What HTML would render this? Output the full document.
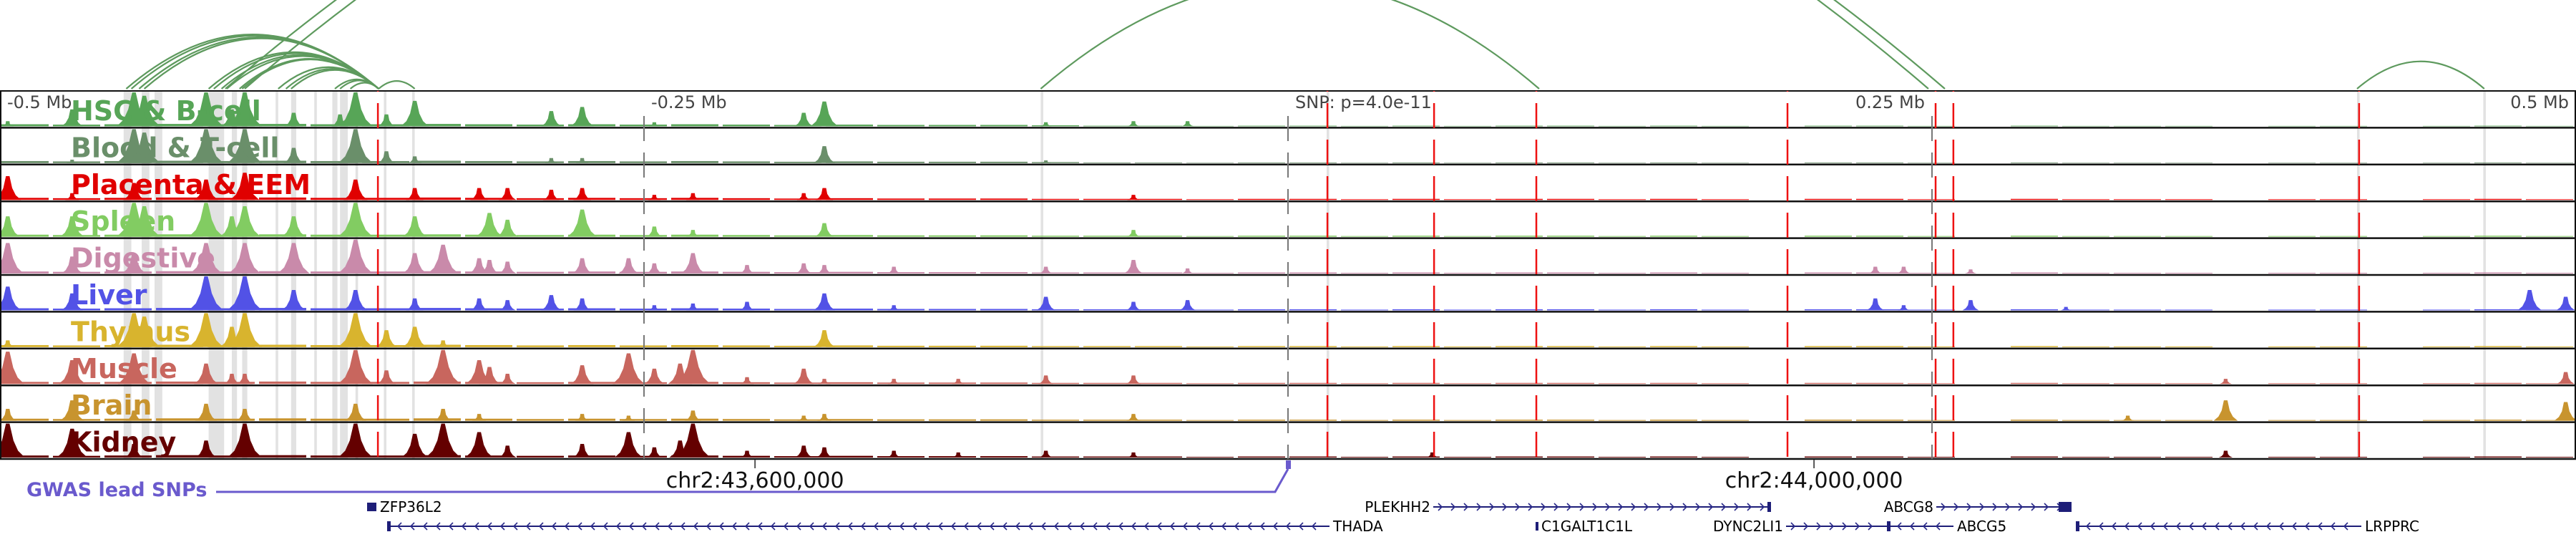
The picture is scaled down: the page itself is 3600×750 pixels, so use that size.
<!DOCTYPE html>
<html><head><meta charset="utf-8"><style>
html,body{margin:0;padding:0;background:#fff;width:3600px;height:750px;overflow:hidden}
svg{display:block;font-family:"DejaVu Sans","Liberation Sans",sans-serif}
</style></head><body>
<svg id="chart" width="3600" height="750" viewBox="0 0 3600 750" xmlns="http://www.w3.org/2000/svg">
<g id="bands"></g>
<g id="arcs" fill="none"></g>
<g id="tracks"></g>
<g id="vlines"></g>
<g id="labels"></g>
<g id="axis"></g>
<g id="genes"></g>
</svg>
<script>
// ---- data ----
const trackNames = ["HSC & B-cell","Blood & T-cell","Placenta & EEM","Spleen","Digestive","Liver","Thymus","Muscle","Brain","Kidney"];
const trackColors = ["#57a557","#6a8f6a","#e00000","#82cc62","#c98aaa","#5252e6","#d8b42e","#c8665e","#c8942e","#640000"];
const hscPeaks = [[-497,0.15],[-472,0.5],[-448,1],[-444,0.9],[-420,1],[-410,0.5],[-405,1],[-386,0.4],[-368,0.35],[-362,1],[-350,0.35],[-339,0.75],[-286,0.45],[-274,0.57],[-246,0.12],[-188,0.4],[-180,0.73],[-94,0.12],[-60,0.15],[-39,0.15]];
const bloodPeaks = [[-472,0.1],[-448,1],[-444,0.9],[-420,1],[-405,1],[-386,0.45],[-362,1],[-350,0.35],[-339,0.2],[-286,0.15],[-274,0.15],[-180,0.5],[-94,0.08]];
const placentaPeaks = [[-497,0.7],[-472,0.2],[-448,0.5],[-420,0.6],[-405,0.8],[-362,0.6],[-339,0.35],[-314,0.35],[-303,0.35],[-286,0.3],[-274,0.35],[-246,0.15],[-231,0.2],[-188,0.2],[-180,0.35],[-60,0.15]];
const spleenPeaks = [[-497,0.6],[-472,0.6],[-448,1],[-444,0.9],[-420,1],[-410,0.6],[-405,0.9],[-386,0.6],[-362,1],[-339,0.6],[-310,0.7],[-303,0.5],[-274,0.8],[-246,0.3],[-231,0.2],[-180,0.4],[-60,0.2]];
const digestivePeaks = [[-497,0.9],[-472,0.5],[-448,0.6],[-420,0.9],[-405,0.9],[-386,0.9],[-362,1],[-339,0.6],[-328,0.85],[-314,0.45],[-310,0.4],[-303,0.35],[-274,0.45],[-256,0.45],[-246,0.3],[-231,0.6],[-210,0.25],[-188,0.3],[-180,0.25],[-153,0.2],[-94,0.2],[-60,0.4],[-39,0.15],[228,0.2],[239,0.2],[265,0.12]];
const liverPeaks = [[-497,0.7],[-472,0.5],[-420,1],[-405,1],[-386,0.6],[-362,0.6],[-339,0.35],[-314,0.35],[-303,0.3],[-286,0.45],[-274,0.35],[-246,0.15],[-231,0.2],[-210,0.25],[-180,0.5],[-153,0.15],[-94,0.4],[-60,0.25],[-39,0.3],[228,0.35],[239,0.15],[265,0.3],[302,0.1],[482,0.6],[496,0.4]];
const thymusPeaks = [[-497,0.2],[-448,1],[-444,0.9],[-420,1],[-410,0.6],[-405,1],[-362,1],[-350,0.5],[-339,0.6],[-328,0.2],[-180,0.5]];
const musclePeaks = [[-497,0.95],[-472,0.7],[-448,0.9],[-420,0.6],[-410,0.3],[-405,0.3],[-362,1],[-350,0.4],[-328,1],[-314,0.7],[-310,0.5],[-303,0.3],[-274,0.55],[-256,0.9],[-246,0.45],[-236,0.6],[-231,1],[-210,0.2],[-188,0.45],[-180,0.15],[-153,0.15],[-128,0.15],[-94,0.25],[-60,0.25],[364,0.15],[496,0.35]];
const brainPeaks = [[-497,0.35],[-472,0.6],[-448,0.3],[-420,0.5],[-405,0.35],[-362,0.5],[-328,0.35],[-314,0.2],[-274,0.2],[-256,0.15],[-231,0.3],[-188,0.15],[-180,0.2],[-60,0.2],[326,0.15],[364,0.6],[496,0.55]];
const kidneyPeaks = [[-497,1],[-472,0.85],[-448,0.4],[-420,0.5],[-405,1],[-362,1],[-339,0.7],[-328,1],[-314,0.75],[-303,0.35],[-274,0.4],[-256,0.75],[-246,0.3],[-236,0.5],[-231,1],[-210,0.2],[-188,0.35],[-180,0.3],[-153,0.2],[-128,0.15],[-94,0.2],[-60,0.15],[56,0.15],[364,0.2]];
const bgLevels = [0.06,0.05,0.06,0.07,0.06,0.07,0.06,0.06,0.07,0.06,0.05,0.06,0.05,0.06,0.05,0.04,0.05,0.04,0.04,0.04,0.03,0.03,0.03,0.02,0.03,0.03,0.02,0.03,0.02,0.03,0.03,0.02,0.03,0.02,0,0.03,0.03,0.02,0,0.03,0.02,0.02,0.02,0,0.02,0.02,0,0.02,0.03,0.02];
const redLinesKb = [-353.3,15.3,56.7,96.4,193.9,251.4,258.3,415.8];
const grayLinesKb = [-250,0,250];
const bandsKb = [[-452,-449],[-445,-442],[-440,-437],[-419,-413],[-410,-408],[-406,-404],[-393,-392],[-387,-385],[-378,-377],[-371,-369],[-368,-365],[-362,-361],[-351,-350],[-340,-339],[-96,-95],[15,16],[415,416],[464,465]];
const loopStartKb = [-451,-449,-446,-444,-419,-417,-414,-412,-407,-406,-392,-389,-387,-370,-368,-364,-353,-412.5,-405,-96,415];
const loopEndKb   = [-353,-353,-353,-353,-353,-353,-353,-353,-353,-353,-353,-353,-353,-353,-353,-353,-339,248.6,255,97.5,464.4];
const axisTickKb = [-500,-250,0,250,500];
const axisTickText = ["-0.5 Mb","-0.25 Mb","SNP: p=4.0e-11","0.25 Mb","0.5 Mb"];
const chromTicksKb = [-206.9,204.2];
const chromTickText = ["chr2:43,600,000","chr2:44,000,000"];

// ---- scales ----
const NS="http://www.w3.org/2000/svg";
const X = kb => 1800 + kb*3.6;
const TOP=127, TH=51.4, NT=10;
const trackTop = i => TOP + i*TH;
function mk(tag, attrs, parent){const e=document.createElementNS(NS,tag);for(const k in attrs)e.setAttribute(k,attrs[k]);parent.appendChild(e);return e;}
const allPeaks=[hscPeaks,bloodPeaks,placentaPeaks,spleenPeaks,digestivePeaks,liverPeaks,thymusPeaks,musclePeaks,brainPeaks,kidneyPeaks];

// bands
const gB=document.getElementById('bands');
bandsKb.forEach(b=>{
  const r=mk('rect',{x:X(b[0]),y:TOP,width:Math.max(3,X(b[1])-X(b[0])),height:TH*NT,fill:'#e2e2e2'},gB);
  
  
});

// arcs
const gA=document.getElementById('arcs');
loopStartKb.forEach((s,i)=>{
  const x0=X(s), x1=X(loopEndKb[i]), span=x1-x0, hc=0.43*span, base=TOP-3;
  const p=mk('path',{d:`M${x0},${base} Q${(x0+x1)/2},${base-hc} ${x1},${base}`,stroke:'#5e9a5e','stroke-width':2.2},gA);
  
  
});

// tracks
const gT=document.getElementById('tracks');
allPeaks.forEach((peaks,i)=>{
  const top=trackTop(i), base=top+TH-2, maxH=TH-4, col=trackColors[i];
  const g=mk('g',{},gT);
  
  
  bgLevels.forEach((v,j)=>{
    if(v<=0) return;
    const lvl = (i<2 && j>20) ? v*0.6 : v;
    mk('rect',{x:X(-500+j*20)+2,y:base-lvl*maxH,width:20*3.6-6,height:lvl*maxH,fill:col},g);
  });
  peaks.forEach(p=>{
    const x=X(p[0]), h=p[1]*maxH, w=6+18*p[1], s=2+6*p[1];
    const pg=mk('polygon',{points:`${x-w},${base} ${x-w*0.6},${base-h*0.2} ${x-s},${base-h*0.5} ${x-2.5},${base-h} ${x+2.5},${base-h} ${x+s},${base-h*0.5} ${x+w*0.6},${base-h*0.2} ${x+w},${base}`,fill:col},g);
    
    
  });
  const bl=mk('line',{x1:0,x2:3600,y1:top+TH,y2:top+TH,stroke:'#111','stroke-width':2.5},gT);
  
  
});
mk('rect',{x:1,y:TOP,width:3598,height:TH*NT,fill:'none',stroke:'#111','stroke-width':2},gT);

// vertical lines
const gV=document.getElementById('vlines');
grayLinesKb.forEach(k=>{
  const l=mk('line',{x1:X(k),x2:X(k),y1:TOP+35,y2:TOP+TH*NT,stroke:'#777','stroke-width':2,'stroke-dasharray':'35 16'},gV);
  
  
});
redLinesKb.forEach(k=>{
  const l=mk('line',{x1:X(k),x2:X(k),y1:TOP,y2:TOP+TH*NT,stroke:'#ee1111','stroke-width':2.5,'stroke-dasharray':'35 16','stroke-dashoffset':'-17'},gV);
  
  
});

// labels
const gL=document.getElementById('labels');
trackNames.forEach((n,i)=>{
  const t=mk('text',{x:99,y:trackTop(i)+41,'font-size':38,'font-weight':'bold',fill:trackColors[i]},gL);
  t.textContent=n;
  
  
});

// axis
const gX=document.getElementById('axis');
axisTickKb.forEach((k,i)=>{
  let x=X(k)+10, anchor='start';
  if(k>0){x=X(k)-10;anchor='end';}
  const t=mk('text',{x:x,y:151,'font-size':24,fill:'#444','text-anchor':anchor},gX);
  t.textContent=axisTickText[i];
  
  
});
chromTicksKb.forEach((k,i)=>{
  mk('line',{x1:X(k),x2:X(k),y1:642,y2:654,stroke:'#555','stroke-width':2},gX);
  const t=mk('text',{x:X(k),y:681,'font-size':30,fill:'#111','text-anchor':'middle'},gX);
  t.textContent=chromTickText[i];
  
  
});

// GWAS + genes
const gG=document.getElementById('genes');
const gw=mk('text',{x:37,y:693,'font-size':27,'font-weight':'bold',fill:'#6a5acd'},gG);
gw.textContent='GWAS lead SNPs';


mk('polyline',{points:'302,687 1782,687 1800,655',fill:'none',stroke:'#6a5acd','stroke-width':3},gG);
const snp=mk('rect',{x:1797,y:643,width:7,height:12,fill:'#6a5acd'},gG);



const geneNames=["ZFP36L2","PLEKHH2","ABCG8","THADA","C1GALT1C1L","DYNC2LI1","ABCG5","LRPPRC"];
const geneStart=[513,2003,2706,544,2146,2496,2640,2904];
const geneEnd=[526,2473,2893,1858,2149,2640,2730,3300];
const geneRow=[0,0,0,1,1,1,1,1];
const geneDir=[-1,1,1,-1,-1,1,-1,-1];
const geneLabelSide=["right","left","left","right","right","left","right","right"];
geneNames.forEach((n,i)=>{
  const y=geneRow[i]?735:708, x0=geneStart[i], x1=geneEnd[i];
  const g=mk('g',{},gG);
  
  
  mk('line',{x1:x0,x2:x1,y1:y,y2:y,stroke:'#1e1e78','stroke-width':2},g);
  if(x1-x0>40){
    for(let x=x0+12;x<x1-6;x+=18){
      const d=geneDir[i]*5;
      mk('polyline',{points:`${x-d},${y-5} ${x},${y} ${x-d},${y+5}`,fill:'none',stroke:'#2a2a8a','stroke-width':1.6},g);
    }
    const ex = geneDir[i]>0? x1: x0;
    mk('rect',{x:ex-(n==='ABCG8'?16:3),y:y-7,width:n==='ABCG8'?18:5,height:14,fill:'#1e1e78'},g);
  } else {
    mk('rect',{x:x0,y:y-6,width:Math.max(4,x1-x0),height:12,fill:'#1e1e78'},g);
  }
  const right=geneLabelSide[i]==='right';
  const t=mk('text',{x:right?x1+5:x0-4,y:y+7,'font-size':20,fill:'#000','text-anchor':right?'start':'end'},g);
  t.textContent=n;
});
</script>
</body></html>
